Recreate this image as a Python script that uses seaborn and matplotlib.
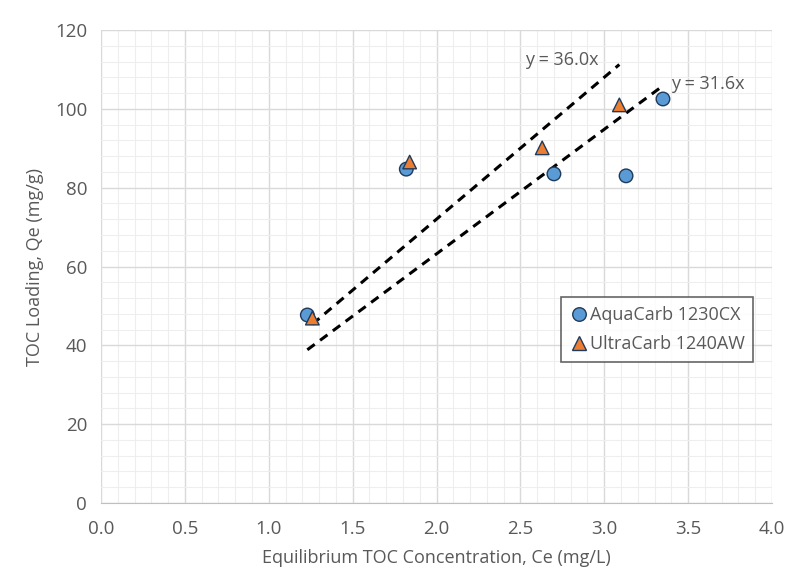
import numpy as np
import pandas as pd
import matplotlib.pyplot as plt
import seaborn as sns
from matplotlib.ticker import MultipleLocator

# data
aqua_ce = [1.23, 1.82, 2.70, 3.13, 3.35]
aqua_qe = [47.7, 84.7, 83.5, 83.0, 102.5]
ultra_ce = [1.26, 1.84, 2.63, 3.09]
ultra_qe = [46.9, 86.5, 90.1, 101.0]
aqua_label = 'AquaCarb 1230CX'
ultra_label = 'UltraCarb 1240AW'
slope_aqua = 31.6
slope_ultra = 36.0

df = pd.DataFrame({
    'Ce': aqua_ce + ultra_ce,
    'Qe': aqua_qe + ultra_qe,
    'carbon': [aqua_label] * len(aqua_ce) + [ultra_label] * len(ultra_ce),
})

# fitted lines through origin, drawn over the data range of each carbon
fit_rows = []
for lab, xs, k in [(ultra_label, ultra_ce, slope_ultra), (aqua_label, aqua_ce, slope_aqua)]:
    for x in (min(xs), max(xs)):
        fit_rows.append({'Ce': x, 'Qe': k * x, 'carbon': lab})
fit_df = pd.DataFrame(fit_rows)

sns.set_style('white')
plt.rcParams['font.family'] = ['Open Sans', 'DejaVu Sans']
text_col = '#595959'

fig = plt.figure(figsize=(7.89, 5.8), dpi=100)
ax = fig.add_axes([101 / 789, 77 / 580, 671 / 789, 473 / 580])

sns.lineplot(data=fit_df, x='Ce', y='Qe', units='carbon', estimator=None,
             color='black', lw=2.2, ax=ax, legend=False, dashes=False)
for line in ax.lines:
    line.set_linestyle((0, (3, 2.2)))

sns.scatterplot(data=df, x='Ce', y='Qe', hue='carbon', style='carbon',
                palette={aqua_label: '#5B9BD5', ultra_label: '#ED7D31'},
                markers={aqua_label: 'o', ultra_label: '^'},
                s=95, edgecolor='#1f3a5a', linewidth=1.0, ax=ax, zorder=5)

ax.set_xlim(0, 4.0)
ax.set_ylim(0, 120)
ax.xaxis.set_major_locator(MultipleLocator(0.5))
ax.xaxis.set_minor_locator(MultipleLocator(0.1))
ax.yaxis.set_major_locator(MultipleLocator(20))
ax.yaxis.set_minor_locator(MultipleLocator(4))
ax.xaxis.set_major_formatter(plt.FuncFormatter(lambda v, p: f'{v:.1f}'))
ax.grid(which='major', color='#d9d9d9', lw=1.0)
ax.grid(which='minor', color='#eeeeee', lw=0.8)
ax.set_axisbelow(True)
for s in ['top', 'right', 'left']:
    ax.spines[s].set_visible(False)
ax.spines['bottom'].set_color('#bfbfbf')
ax.tick_params(axis='both', which='both', length=0, labelsize=13.5, colors=text_col)
ax.tick_params(axis='x', pad=12)
ax.tick_params(axis='y', pad=10)

ax.set_xlabel('Equilibrium TOC Concentration, Ce (mg/L)', fontsize=13, color=text_col, labelpad=8)
ax.set_ylabel('TOC Loading, Qe (mg/g)', fontsize=13, color=text_col, labelpad=8)

ax.text(2.53, 112.4, f'y = {slope_ultra:.1f}x', fontsize=13, color=text_col, va='center')
ax.text(3.40, 106.3, f'y = {slope_aqua:.1f}x', fontsize=13, color=text_col, va='center')

handles, labels = ax.get_legend_handles_labels()
leg = ax.legend(handles, labels, loc='upper left', bbox_to_anchor=(0.685, 0.435),
                frameon=True, fancybox=False, fontsize=13, handletextpad=0.1,
                borderpad=0.5, labelspacing=0.6, handlelength=1.0, borderaxespad=0)
leg.get_frame().set_edgecolor('#404040')
leg.get_frame().set_linewidth(1.2)
for t in leg.get_texts():
    t.set_color(text_col)

fig.savefig('out.png', dpi=100)
